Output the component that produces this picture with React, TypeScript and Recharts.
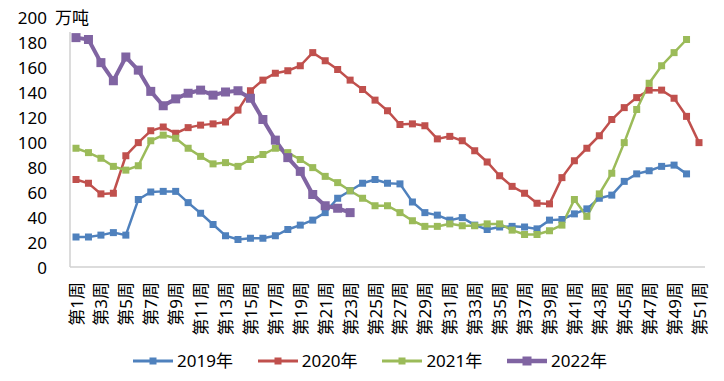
import React from 'react';
import { LineChart, Line, XAxis, YAxis, Legend, Label } from 'recharts';

const weeks: string[] = Array.from({ length: 51 }, (_, i) => `第${i + 1}周`);

const s2019: (number | null)[] = [
  24, 24, 25.5, 27.5, 25.5, 54, 60, 60.5, 60.5, 51.5,
  43, 34, 25, 22, 23, 23, 25, 30, 33.5, 37.5,
  43.5, 55, 61, 67, 70, 67, 66.5, 52, 43.5, 41.5,
  37.5, 39.5, 33.5, 30, 32, 32.5, 32, 30.5, 37.5, 38,
  42.5, 46.5, 55, 57.5, 68.5, 74.5, 77, 80.5, 81.5, 74.5,
  null,
];
const s2020: (number | null)[] = [
  70, 67, 58.5, 59, 89, 99.5, 109, 112, 107, 111.5,
  113.5, 114.5, 116, 125.5, 141, 149.5, 155, 157, 161, 171.5,
  165, 158, 149.5, 142, 133.5, 125, 114, 114.5, 113, 102.5,
  104.5, 101, 93, 84, 73, 64.5, 59, 51, 50.5, 71.5,
  85, 95, 105, 118, 127.5, 135.5, 141.5, 141.5, 135, 120.5,
  99.5,
];
const s2021: (number | null)[] = [
  95, 91.5, 87, 80.5, 77.5, 81, 101, 105.5, 103, 95,
  88.5, 82.5, 83.5, 80.5, 86, 90, 95, 91.5, 86, 79.5,
  72.5, 67.5, 61, 55, 49, 49, 43.5, 37, 32.5, 32.5,
  34.5, 33, 33, 34.5, 34.5, 29.5, 26, 26, 29, 33.5,
  54, 40.5, 58.5, 75, 99.5, 126, 147, 161, 171.5, 182,
  null,
];
const s2022: (number | null)[] = [
  183.5, 182, 163.5, 149, 168, 157.5, 140.5, 129, 134.5, 139,
  141.5, 137.5, 140, 141, 135, 118, 101.5, 87.5, 76.5, 58,
  49, 47, 43.5,
];

const yTicks: number[] = [0, 20, 40, 60, 80, 100, 120, 140, 160, 180, 200];

const seriesNames = ['2019年', '2020年', '2021年', '2022年'];
const seriesKeys = ['y2019', 'y2020', 'y2021', 'y2022'];
const colors = ['#4F81BD', '#C0504D', '#9BBB59', '#8064A2'];
const widths = [2.5, 2.5, 2.5, 4];
const markerSizes = [7, 7, 7, 9];

const data = weeks.map((w, i) => ({
  week: w,
  y2019: s2019[i] ?? null,
  y2020: s2020[i] ?? null,
  y2021: s2021[i] ?? null,
  y2022: s2022[i] ?? null,
}));

const FONT = "'Noto Sans', 'Noto Sans CJK SC', sans-serif";

const makeDot = (color: string, size: number) => (props: any) => {
  const { cx, cy, index } = props;
  if (cx == null || cy == null || isNaN(cy)) return <g key={`d-${index}`} />;
  return (
    <rect
      key={`d-${index}`}
      x={cx - size / 2}
      y={cy - size / 2}
      width={size}
      height={size}
      fill={color}
      stroke="none"
    />
  );
};

const XTick = (props: any) => {
  const { x, y, payload } = props;
  return (
    <text
      x={x}
      y={y}
      transform={`rotate(-90, ${x}, ${y})`}
      textAnchor="end"
      dominantBaseline="central"
      fontFamily={FONT}
      fontSize={17}
      fill="#000"
    >
      {payload.value}
    </text>
  );
};

const YTick = (props: any) => {
  const { x, y, payload } = props;
  return (
    <text
      x={x}
      y={y}
      textAnchor="end"
      dominantBaseline="central"
      fontFamily={FONT}
      fontSize={17}
      fill="#000"
    >
      {payload.value}
    </text>
  );
};

const LegendContent = () => (
  <div
    style={{
      display: 'flex',
      alignItems: 'center',
      height: 40,
      paddingLeft: 133,
      fontFamily: FONT,
      fontSize: 17,
      color: '#000',
      boxSizing: 'border-box',
    }}
  >
    {seriesNames.map((name, i) => (
      <div
        key={name}
        style={{ display: 'flex', alignItems: 'center', width: 124.7, flex: 'none' }}
      >
        <svg width={40} height={14} style={{ display: 'block' }}>
          <line x1={0} y1={7} x2={40} y2={7} stroke={colors[i]} strokeWidth={i === 3 ? 4.5 : 3} />
          <rect
            x={20 - markerSizes[i] / 2}
            y={7 - markerSizes[i] / 2}
            width={markerSizes[i]}
            height={markerSizes[i]}
            fill={colors[i]}
          />
        </svg>
        <span style={{ marginLeft: 4, lineHeight: '20px' }}>{name}</span>
      </div>
    ))}
  </div>
);

const UnitLabel = () => (
  <g>
    <rect x={52} y={5} width={45} height={27} fill="#fff" />
    <text
      x={55}
      y={17}
      dominantBaseline="central"
      fontFamily={FONT}
      fontSize={17}
      fill="#000"
    >
      万吨
    </text>
  </g>
);

export default function App() {
  return (
    <div style={{ position: 'absolute', left: 0, top: 0, width: 724, height: 381, background: '#fff' }}>
      <LineChart
        width={724}
        height={381}
        data={data}
        margin={{ top: 17, right: 19, left: 0, bottom: 0 }}
      >
        <XAxis
          dataKey="week"
          type="category"
          interval={1}
          tick={<XTick />}
          tickLine={false}
          tickSize={0}
          tickMargin={15}
          height={74}
          padding={{ left: 6, right: 6 }}
          axisLine={{ stroke: '#D0D0D0', strokeWidth: 1.5 }}
        />
        <YAxis
          type="number"
          domain={[0, 200]}
          ticks={yTicks}
          interval={0}
          width={70}
          tick={<YTick />}
          tickLine={false}
          tickSize={0}
          tickMargin={23}
          axisLine={{ stroke: '#D0D0D0', strokeWidth: 1.5 }}
        >
          <Label content={<UnitLabel />} />
        </YAxis>
        <Legend
          verticalAlign="bottom"
          height={40}
          wrapperStyle={{ left: 0, width: 724 }}
          content={<LegendContent />}
        />
        {seriesKeys.map((k, i) => (
          <Line
            key={k}
            dataKey={k}
            name={seriesNames[i]}
            stroke={colors[i]}
            strokeWidth={widths[i]}
            dot={makeDot(colors[i], markerSizes[i])}
            activeDot={false}
            isAnimationActive={false}
            connectNulls={false}
            type="linear"
          />
        ))}
      </LineChart>
    </div>
  );
}
